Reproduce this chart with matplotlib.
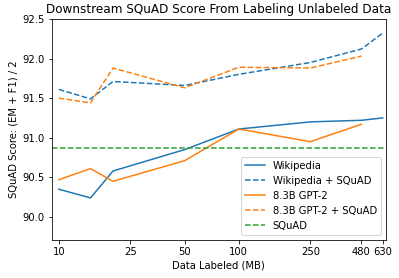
import matplotlib
matplotlib.use("Agg")
import matplotlib.pyplot as plt
from matplotlib.ticker import NullLocator, FixedLocator, FixedFormatter

data_mb = [10, 15, 20, 50, 100, 250, 480, 630]
gpt2_mb = [10, 15, 20, 50, 100, 250, 480]

wiki = [90.35, 90.24, 90.58, 90.85, 91.11, 91.20, 91.22, 91.25]
wiki_squad = [91.61, 91.49, 91.71, 91.66, 91.80, 91.95, 92.12, 92.32]
gpt2 = [90.47, 90.61, 90.45, 90.71, 91.11, 90.95, 91.17]
gpt2_squad = [91.50, 91.44, 91.88, 91.63, 91.89, 91.88, 92.03]
squad_only = 90.87

tick_vals = [10, 25, 50, 100, 250, 480, 630]
tick_labels = [str(t) for t in tick_vals]

fig = plt.figure(figsize=(399 / 72, 278 / 72), dpi=72)
ax = fig.add_axes([0.130, 0.137, 0.837, 0.795])

ax.plot(data_mb, wiki, '-', color='C0', label='Wikipedia')
ax.plot(data_mb, wiki_squad, '--', color='C0', label='Wikipedia + SQuAD')
ax.plot(gpt2_mb, gpt2, '-', color='C1', label='8.3B GPT-2')
ax.plot(gpt2_mb, gpt2_squad, '--', color='C1', label='8.3B GPT-2 + SQuAD')
ax.axhline(squad_only, linestyle='--', color='C2', label='SQuAD')

ax.set_xscale('log')
ax.set_xlim(9.15, 656)
ax.set_ylim(89.71, 92.5)
ax.xaxis.set_major_locator(FixedLocator(tick_vals))
ax.xaxis.set_major_formatter(FixedFormatter(tick_labels))
ax.xaxis.set_minor_locator(NullLocator())
ax.set_yticks([90.0, 90.5, 91.0, 91.5, 92.0, 92.5])

ax.set_title("Downstream SQuAD Score From Labeling Unlabeled Data", fontsize=12)
ax.set_xlabel("Data Labeled (MB)")
ax.set_ylabel("SQuAD Score: (EM + F1) / 2")
ax.legend(loc='lower right')

fig.savefig("out.png", dpi=72)
